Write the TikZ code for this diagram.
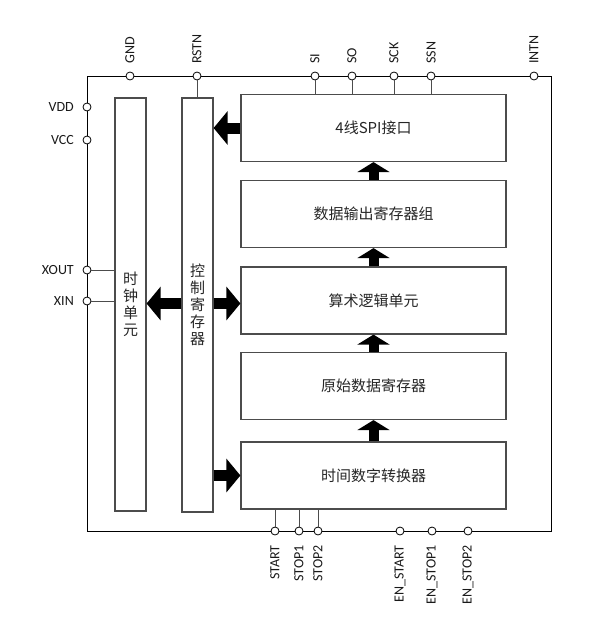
\documentclass[tikz,border=0pt]{standalone}
\usepackage{fontspec}
\setmainfont{Carlito}
\newfontfamily\cjk{Noto Sans CJK SC}
\usetikzlibrary{arrows.meta, positioning}

\begin{document}
\begin{tikzpicture}[
    x=1pt, y=-1pt,
    frame/.style={draw=black, line width=0.9pt},
    block/.style={rectangle, draw=black!70, line width=1.2pt, inner sep=0pt, align=center, font=\cjk\fontsize{15}{17}\selectfont, text=black!85},
    vblock/.style={block, minimum width=31pt, minimum height=413pt},
    hblock/.style={block, minimum width=265pt, minimum height=67pt},
    pin/.style={circle, draw=black, fill=white, line width=0.8pt, inner sep=0pt, minimum size=8pt},
    pinlbl/.style={font=\fontsize{14}{16}\selectfont, inner sep=0pt, text=black!90},
    wire/.style={draw=black!70, line width=0.9pt},
    sidearrow/.style={line width=11pt, -{Triangle[length=14pt, width=33pt]}},
    uparrow/.style={line width=10pt, -{Triangle[length=10pt, width=32pt]}},
]
\useasboundingbox (0,0) rectangle (601,637);

% === Chip outline ===
\draw[frame] (87,76) rectangle (551,531);

% === Left column: clock + control register ===
\node (clk) [vblock] at (130.5,304.5) {时\\钟\\单\\元};
\node (ctrl) [vblock, minimum height=414pt] at (197.5,305) {控\\制\\寄\\存\\器};

% === Right column: data path ===
\node (spi) [hblock] at (373.5,128) {4{\cjk 线}SPI{\cjk 接口}};
\node (dout) [hblock] at (373.5,214) {数据输出寄存器组};
\node (alu) [hblock] at (373.5,300.5) {算术逻辑单元};
\node (raw) [hblock] at (373.5,386) {原始数据寄存器};
\node (tdc) [hblock] at (373.5,475.5) {时间数字转换器};

% === Data flow arrows ===
\draw[uparrow] (dout.north) -- (spi.south);
\draw[uparrow] (alu.north) -- (dout.south);
\draw[uparrow] (raw.north) -- (alu.south);
\draw[uparrow] (tdc.north) -- (raw.south);

\draw[sidearrow] (spi.west) -- (ctrl.east |- spi.west);
\draw[sidearrow] ([yshift=-3pt]ctrl.west |- alu.west) -- ([yshift=-3pt]clk.east |- alu.west);
\draw[sidearrow] ([yshift=-3pt]ctrl.east |- alu.west) -- ([yshift=-3pt]alu.west);
\draw[sidearrow] (ctrl.east |- tdc.west) -- (tdc.west);

% === Top pins ===
\foreach \name/\x/\txt in {gnd/130/GND, rstn/197/RSTN, si/315/SI, so/352/SO, sck/394/SCK, ssn/431/SSN, intn/534/INTN} {
    \node (\name) [pin] at (\x,76) {};
    \node [pinlbl, rotate=90, anchor=west] at ([yshift=12pt]\name.center) {\txt};
}

% === Left pins ===
\foreach \name/\y/\txt in {vdd/107/VDD, vcc/140/VCC, xout/270/XOUT, xin/301/XIN} {
    \node (\name) [pin] at (87,\y) {};
    \node [pinlbl, anchor=east] at ([xshift=-13pt]\name.center) {\txt};
}

% === Bottom pins ===
\foreach \name/\x/\txt in {start/275/START, stopa/299/STOP1, stopb/318/STOP2, enstart/400/EN\_START, enstopa/432/EN\_STOP1, enstopb/468/EN\_STOP2} {
    \node (\name) [pin] at (\x,531) {};
    \node [pinlbl, rotate=90, anchor=east] at ([yshift=-14pt]\name.center) {\txt};
}

% === Pin wires ===
\draw[wire] (rstn) -- (rstn |- ctrl.north);
\foreach \p in {si, so, sck, ssn}
    \draw[wire] (\p) -- (\p |- spi.north);
\draw[wire] (xout) -- (xout -| clk.west);
\draw[wire] (xin) -- (xin -| clk.west);
\foreach \p in {start, stopa, stopb}
    \draw[wire] (\p) -- (\p |- tdc.south);

\end{tikzpicture}
\end{document}
